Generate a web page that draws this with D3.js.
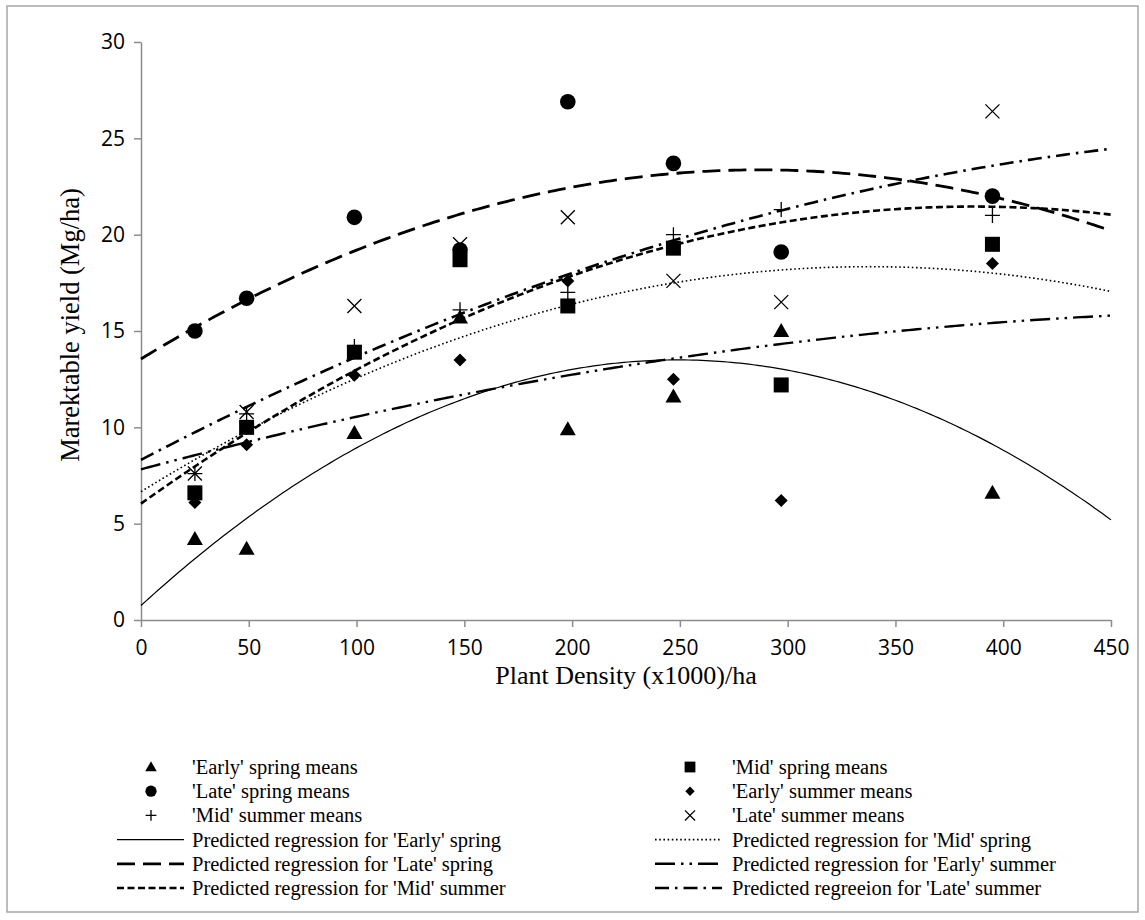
<!DOCTYPE html>
<html>
<head>
<meta charset="utf-8">
<script src="https://cdn.jsdelivr.net/npm/d3@7/dist/d3.min.js"></script>
<style>
  html, body { margin: 0; padding: 0; background: #fff; }
  svg { display: block; }
</style>
</head>
<body>
<svg id="chart" width="1145" height="920"></svg>
<script>
// Plant densities (x1000 plants/ha) at which the means were taken
const densities = [25, 49, 99, 148, 198, 247, 297, 395];

// Marketable yield means (Mg/ha)
const earlySpring = [4.2, 3.7, 9.7, 15.7, 9.9, 11.6, 15.0, 6.6];
const midSpring   = [6.6, 10.0, 13.9, 18.7, 16.3, 19.3, 12.2, 19.5];
const lateSpring  = [15.0, 16.7, 20.9, 19.2, 26.9, 23.7, 19.1, 22.0];
const earlySummer = [6.1, 9.1, 12.7, 13.5, 17.6, 12.5, 6.2, 18.5];
const midSummer   = [7.6, 10.7, 14.2, 16.1, 17.0, 20.0, 21.3, 21.0];
const lateSummer  = [7.6, 10.8, 16.3, 19.5, 20.9, 17.6, 16.5, 26.4];

// Quadratic regression coefficients [intercept, linear, quadratic]
const regEarlySpring = [0.75, 0.1024, -2.056e-4];
const regMidSpring   = [6.66, 0.06914, -1.0233e-4];
const regLateSpring  = [13.55, 0.06838, -1.191e-4];
const regEarlySummer = [7.82, 0.03003, -2.733e-5];
const regMidSummer   = [6.04, 0.07983, -1.0333e-4];
const regLateSummer  = [8.31, 0.05856, -5.04e-5];

// Axis ticks
const xTicks = [0, 50, 100, 150, 200, 250, 300, 350, 400, 450];
const yTicks = [0, 5, 10, 15, 20, 25, 30];

const svg = d3.select("#chart");

// outer frame
svg.append("rect")
  .attr("x", 7).attr("y", 6).attr("width", 1131).attr("height", 906)
  .attr("fill", "#fff").attr("stroke", "#a6a6a6").attr("stroke-width", 1.5);

const plot = { left: 141, right: 1111, top: 42, bottom: 620 };
const x = d3.scaleLinear().domain([0, 450]).range([plot.left, plot.right]);
const y = d3.scaleLinear().domain([0, 30]).range([plot.bottom, plot.top]);

const axisColor = "#8c8c8c";
const tickFont = "'Open Sans', 'Liberation Sans', sans-serif";
const serif = "'Liberation Serif', 'Times New Roman', serif";

// X axis
const gx = svg.append("g").attr("transform", `translate(0,${plot.bottom})`)
  .call(d3.axisBottom(x).tickValues(xTicks).tickSize(7).tickSizeOuter(0).tickPadding(13));
// Y axis
const gy = svg.append("g").attr("transform", `translate(${plot.left},0)`)
  .call(d3.axisLeft(y).tickValues(yTicks).tickSize(7).tickSizeOuter(0).tickPadding(9));

[gx, gy].forEach(g => {
  g.select(".domain").attr("stroke", axisColor).attr("stroke-width", 1.5);
  g.selectAll(".tick line").attr("stroke", axisColor).attr("stroke-width", 1.5);
  g.selectAll(".tick text").attr("fill", "#000")
    .style("font-family", tickFont).style("font-size", "21px");
});

// Axis titles
svg.append("text")
  .attr("x", 626).attr("y", 684).attr("text-anchor", "middle")
  .style("font-family", serif).style("font-size", "26px")
  .text("Plant Density (x1000)/ha");
svg.append("text")
  .attr("transform", "translate(79,325) rotate(-90)").attr("text-anchor", "middle")
  .style("font-family", serif).style("font-size", "26.5px")
  .text("Marektable yield (Mg/ha)");

// Line styles for the regression curves
const lineStyles = {
  earlySpring: { width: 1.2, dash: null },
  midSpring:   { width: 1.6, dash: "1.6,2.6" },
  lateSpring:  { width: 2.8, dash: "18,8" },
  earlySummer: { width: 2.4, dash: "20,6,2.5,6,2.5,6" },
  midSummer:   { width: 2.6, dash: "7,3.5" },
  lateSummer:  { width: 2.6, dash: "14,6,2.5,6" }
};

const xs = d3.range(0, 450.01, 2);
const quad = c => xv => c[0] + c[1] * xv + c[2] * xv * xv;
const line = d3.line().x(d => x(d[0])).y(d => y(d[1]));

const regressions = [
  { key: "earlySpring", coef: regEarlySpring },
  { key: "midSpring",   coef: regMidSpring },
  { key: "lateSpring",  coef: regLateSpring },
  { key: "earlySummer", coef: regEarlySummer },
  { key: "midSummer",   coef: regMidSummer },
  { key: "lateSummer",  coef: regLateSummer }
];

const curveG = svg.append("g");
regressions.forEach(r => {
  const f = quad(r.coef);
  const st = lineStyles[r.key];
  curveG.append("path")
    .datum(xs.map(v => [v, f(v)]))
    .attr("d", line)
    .attr("fill", "none")
    .attr("stroke", "#000")
    .attr("stroke-width", st.width)
    .attr("stroke-dasharray", st.dash);
});

// Marker drawing
function drawMarker(g, type, cx, cy, s) {
  switch (type) {
    case "triangle":
      g.append("path").attr("d", `M${cx},${cy - 8 * s} L${cx + 8 * s},${cy + 6 * s} L${cx - 8 * s},${cy + 6 * s} Z`).attr("fill", "#000");
      break;
    case "square":
      g.append("rect").attr("x", cx - 7.5 * s).attr("y", cy - 7.5 * s).attr("width", 15 * s).attr("height", 15 * s).attr("fill", "#000");
      break;
    case "circle":
      g.append("circle").attr("cx", cx).attr("cy", cy).attr("r", 7.8 * s).attr("fill", "#000");
      break;
    case "diamond":
      g.append("path").attr("d", `M${cx},${cy - 6.5 * s} L${cx + 6.5 * s},${cy} L${cx},${cy + 6.5 * s} L${cx - 6.5 * s},${cy} Z`).attr("fill", "#000");
      break;
    case "plus":
      g.append("path").attr("d", `M${cx - 7.5 * s},${cy} H${cx + 7.5 * s} M${cx},${cy - 7.5 * s} V${cy + 7.5 * s}`)
        .attr("stroke", "#000").attr("stroke-width", 1.3).attr("fill", "none");
      break;
    case "cross":
      g.append("path").attr("d", `M${cx - 7 * s},${cy - 7 * s} L${cx + 7 * s},${cy + 7 * s} M${cx - 7 * s},${cy + 7 * s} L${cx + 7 * s},${cy - 7 * s}`)
        .attr("stroke", "#000").attr("stroke-width", 1.3).attr("fill", "none");
      break;
  }
}

const series = [
  { values: earlySpring, marker: "triangle" },
  { values: midSpring,   marker: "square" },
  { values: lateSpring,  marker: "circle" },
  { values: earlySummer, marker: "diamond" },
  { values: midSummer,   marker: "plus" },
  { values: lateSummer,  marker: "cross" }
];

const markG = svg.append("g");
series.forEach(s => {
  s.values.forEach((v, i) => drawMarker(markG, s.marker, x(densities[i]), y(v), 1));
});

// Legend
const legendMarkers = [
  { marker: "triangle", label: "'Early' spring means" },
  { marker: "square",   label: "'Mid' spring means" },
  { marker: "circle",   label: "'Late' spring means" },
  { marker: "diamond",  label: "'Early' summer means" },
  { marker: "plus",     label: "'Mid' summer means" },
  { marker: "cross",    label: "'Late' summer means" }
];
const legendLines = [
  { key: "earlySpring", label: "Predicted regression for 'Early' spring" },
  { key: "midSpring",   label: "Predicted regression for 'Mid' spring" },
  { key: "lateSpring",  label: "Predicted regression for 'Late' spring" },
  { key: "earlySummer", label: "Predicted regression for 'Early' summer" },
  { key: "midSummer",   label: "Predicted regression for 'Mid' summer" },
  { key: "lateSummer",  label: "Predicted regreeion for 'Late' summer" }
];

const colX = [{ mark: 151, l0: 117, l1: 184, text: 192 }, { mark: 690, l0: 655, l1: 722, text: 732 }];
const rowY = i => 767 + i * 24.2;
const legG = svg.append("g");

const entries = legendMarkers.map(d => ({ ...d, kind: "marker" }))
  .concat(legendLines.map(d => ({ ...d, kind: "line" })));
entries.forEach((e, i) => {
  const col = colX[i % 2];
  const yy = rowY(Math.floor(i / 2));
  if (e.kind === "marker") {
    drawMarker(legG, e.marker, col.mark, yy, 0.72);
  } else {
    const st = lineStyles[e.key];
    legG.append("line")
      .attr("x1", col.l0).attr("x2", col.l1).attr("y1", yy).attr("y2", yy)
      .attr("stroke", "#000").attr("stroke-width", st.width)
      .attr("stroke-dasharray", st.dash);
  }
  legG.append("text")
    .attr("x", col.text).attr("y", yy + 7)
    .style("font-family", serif).style("font-size", "20.5px")
    .text(e.label);
});
</script>
</body>
</html>
